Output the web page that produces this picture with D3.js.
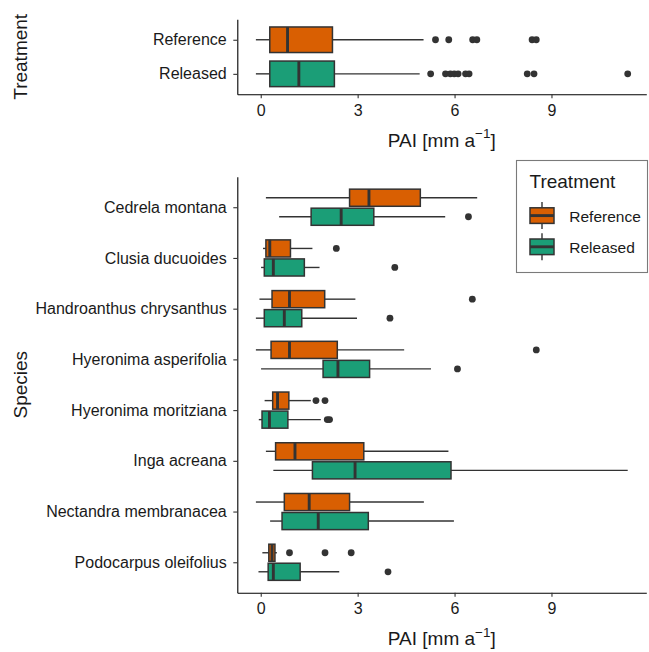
<!DOCTYPE html>
<html>
<head>
<meta charset="utf-8">
<script src="https://cdn.jsdelivr.net/npm/d3@7"></script>
<style>
  body { margin: 0; background: #ffffff; }
  svg { display: block; font-family: "Liberation Sans", Arial, sans-serif; }
</style>
</head>
<body>
<svg id="chart" width="649" height="652"></svg>
<script>
// ---- data -------------------------------------------------------------
const treatments = ["Reference", "Released"];
const treatmentColors = ["#D95F02", "#1B9E77"];

const species = [
  "Cedrela montana",
  "Clusia ducuoides",
  "Handroanthus chrysanthus",
  "Hyeronima asperifolia",
  "Hyeronima moritziana",
  "Inga acreana",
  "Nectandra membranacea",
  "Podocarpus oleifolius"
];

// box summaries: [lower whisker, Q1, median, Q3, upper whisker]
const pooledStats = [
  [-0.15, 0.28, 0.83, 2.22, 5.04],   // Reference
  [-0.15, 0.28, 1.18, 2.28, 4.92]    // Released
];
const pooledOutliers = [
  [5.41, 5.82, 6.56, 6.69, 8.40, 8.53],
  [5.26, 5.72, 5.87, 5.99, 6.11, 6.34, 6.45, 8.25, 8.46, 11.36]
];

const referenceStats = [
  [0.16, 2.75, 3.35, 4.94, 6.70],
  [0.07, 0.16, 0.28, 0.92, 1.60],
  [-0.04, 0.35, 0.89, 1.98, 2.93],
  [-0.15, 0.32, 0.89, 2.37, 4.44],
  [0.12, 0.37, 0.52, 0.87, 1.55],
  [0.16, 0.46, 1.06, 3.19, 5.81],
  [-0.15, 0.73, 1.50, 2.75, 5.05],
  [0.05, 0.25, 0.35, 0.44, 0.50]
];
const referenceOutliers = [
  [],
  [2.34],
  [6.55],
  [8.53],
  [1.71, 1.99],
  [],
  [],
  [0.89, 1.99, 2.80]
];

const releasedStats = [
  [0.57, 1.56, 2.49, 3.50, 5.71],
  [0.01, 0.11, 0.39, 1.35, 1.82],
  [-0.15, 0.11, 0.73, 1.27, 2.98],
  [0.01, 1.93, 2.39, 3.37, 5.27],
  [-0.06, 0.04, 0.27, 0.84, 1.86],
  [0.39, 1.60, 2.92, 5.89, 11.36],
  [0.29, 0.66, 1.78, 3.33, 5.98],
  [-0.07, 0.23, 0.39, 1.22, 2.43]
];
const releasedOutliers = [
  [6.43],
  [4.15],
  [4.00],
  [6.09],
  [2.06, 2.13],
  [],
  [],
  [3.94]
];

const xTicks = [0, 3, 6, 9];

// ---- layout -----------------------------------------------------------
const svg = d3.select("#chart");
const panelLeft = 237.3, panelRight = 646.3;
const topPanel = { y0: 19.3, y1: 94.3 };
const bottomPanel = { y0: 176.8, y1: 592.7 };
const ink = "#1a1a1a", boxLine = "#333333";

const allValues = [pooledStats, pooledOutliers, referenceStats, referenceOutliers,
                   releasedStats, releasedOutliers].flat(2);
const [lo, hi] = d3.extent(allValues);
const pad = (hi - lo) * 0.05;
const x = d3.scaleLinear().domain([lo - pad, hi + pad]).range([panelLeft, panelRight]);

function drawBox(g, yc, h, s, outs, color) {
  const lineW = 1.4;
  g.append("line").attr("x1", x(s[0])).attr("x2", x(s[1])).attr("y1", yc).attr("y2", yc)
    .attr("stroke", boxLine).attr("stroke-width", lineW);
  g.append("line").attr("x1", x(s[3])).attr("x2", x(s[4])).attr("y1", yc).attr("y2", yc)
    .attr("stroke", boxLine).attr("stroke-width", lineW);
  g.append("rect").attr("x", x(s[1])).attr("y", yc - h / 2)
    .attr("width", x(s[3]) - x(s[1])).attr("height", h)
    .attr("fill", color).attr("stroke", boxLine).attr("stroke-width", 1.5);
  g.append("line").attr("x1", x(s[2])).attr("x2", x(s[2]))
    .attr("y1", yc - h / 2).attr("y2", yc + h / 2)
    .attr("stroke", boxLine).attr("stroke-width", 2.9);
  g.selectAll(null).data(outs).enter().append("circle")
    .attr("cx", d => x(d)).attr("cy", yc).attr("r", 3.4).attr("fill", boxLine);
}

function styleAxis(g) {
  g.attr("font-family", null).attr("font-size", null);
  g.select(".domain").attr("stroke", "#000").attr("stroke-width", 1.1);
  g.selectAll(".tick line").attr("stroke", boxLine).attr("stroke-width", 1.1);
  g.selectAll(".tick text").attr("fill", ink).style("font-size", "16px");
}

function xAxisAndTitle(yAxis) {
  svg.append("g").attr("transform", `translate(0,${yAxis})`)
    .call(d3.axisBottom(x).tickValues(xTicks).tickSize(4).tickSizeOuter(0).tickPadding(6.2))
    .call(styleAxis);
  const t = svg.append("text").attr("x", (panelLeft + panelRight) / 2).attr("y", yAxis + 52.3)
    .attr("text-anchor", "middle").attr("fill", ink).style("font-size", "19px");
  t.append("tspan").text("PAI [mm a");
  t.append("tspan").attr("dy", -8.5).style("font-size", "13.5px").text("\u22121");
  t.append("tspan").attr("dy", 8.5).text("]");
}

function yTitle(label, yc) {
  svg.append("text").attr("transform", `translate(26.5,${yc}) rotate(-90)`)
    .attr("text-anchor", "middle").attr("fill", ink).style("font-size", "19px").text(label);
}

// ---- top panel: pooled by treatment -----------------------------------
const yTop = d3.scalePoint().domain(treatments).range([topPanel.y0, topPanel.y1]).padding(0.6);
const gTop = svg.append("g");
treatments.forEach((t, i) => {
  drawBox(gTop, yTop(t), yTop.step() * 0.75, pooledStats[i], pooledOutliers[i], treatmentColors[i]);
});
svg.append("g").attr("transform", `translate(${panelLeft},0)`)
  .call(d3.axisLeft(yTop).tickSize(4).tickSizeOuter(0).tickPadding(6.6))
  .call(styleAxis);
xAxisAndTitle(topPanel.y1);
yTitle("Treatment", (topPanel.y0 + topPanel.y1) / 2);

// ---- bottom panel: by species, dodged by treatment --------------------
const yBot = d3.scalePoint().domain(species).range([bottomPanel.y0, bottomPanel.y1]).padding(0.6);
const gBot = svg.append("g");
const step = yBot.step();
const boxH = step * 0.375 * 0.9;
const offset = step * 0.1875;
species.forEach((sp, i) => {
  drawBox(gBot, yBot(sp) - offset, boxH, referenceStats[i], referenceOutliers[i], treatmentColors[0]);
  drawBox(gBot, yBot(sp) + offset, boxH, releasedStats[i], releasedOutliers[i], treatmentColors[1]);
});
svg.append("g").attr("transform", `translate(${panelLeft},0)`)
  .call(d3.axisLeft(yBot).tickSize(4).tickSizeOuter(0).tickPadding(6.6))
  .call(styleAxis);
xAxisAndTitle(bottomPanel.y1);
yTitle("Species", (bottomPanel.y0 + bottomPanel.y1) / 2);

// ---- legend -----------------------------------------------------------
const lg = svg.append("g");
lg.append("rect").attr("x", 516.5).attr("y", 160.5).attr("width", 131).attr("height", 112)
  .attr("fill", "#fff").attr("stroke", "#7a7a7a").attr("stroke-width", 1.1);
lg.append("text").attr("x", 529.5).attr("y", 188).attr("fill", ink)
  .style("font-size", "19px").text("Treatment");
const keyY = [215.6, 246.8];
treatments.forEach((t, i) => {
  const yc = keyY[i], cx = 542;
  lg.append("line").attr("x1", cx).attr("x2", cx).attr("y1", yc - 13.5).attr("y2", yc + 13.5)
    .attr("stroke", boxLine).attr("stroke-width", 1.4);
  lg.append("rect").attr("x", 530).attr("y", yc - 7.8).attr("width", 24).attr("height", 15.6)
    .attr("fill", treatmentColors[i]).attr("stroke", boxLine).attr("stroke-width", 1.5);
  lg.append("line").attr("x1", 530).attr("x2", 554).attr("y1", yc).attr("y2", yc)
    .attr("stroke", boxLine).attr("stroke-width", 2.9);
  lg.append("text").attr("x", 569.3).attr("y", yc + 5.9).attr("fill", ink)
    .style("font-size", "15.5px").text(t);
});
</script>
</body>
</html>
